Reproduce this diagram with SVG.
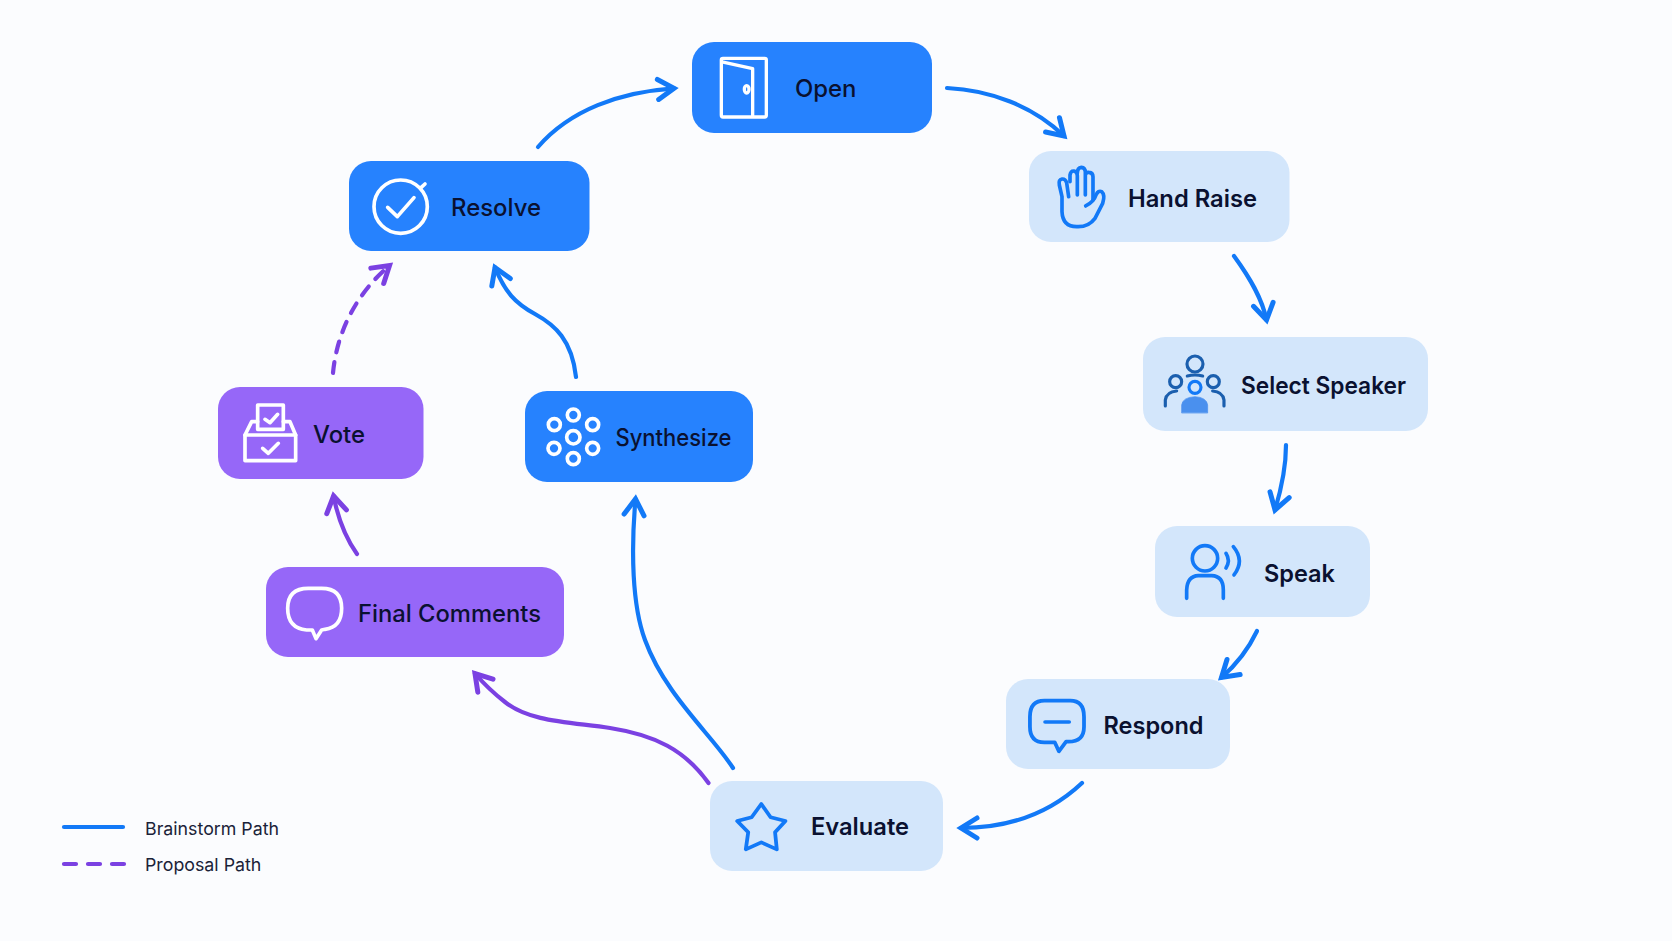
<svg xmlns="http://www.w3.org/2000/svg" width="1672" height="941" viewBox="0 0 1672 941">
<style>
.bg{fill:#fbfcfe}
.box{stroke:none}
.b{fill:#2682fe}
.l{fill:#d3e6fb}
.p{fill:#9667f8}
text{font-family:"Inter","Liberation Sans",sans-serif;font-size:24px;font-weight:500;fill:#0a1130}
text.lt{font-weight:600}
.lg{font-size:17.8px;font-weight:400;fill:#1a2238}
.ic{fill:none;stroke-linecap:round;stroke-linejoin:round;stroke-width:11}
.w{stroke:#fff}
.i{stroke:#1279f7}
.c{fill:none;stroke-width:4.2;stroke-linecap:round}
.cb{stroke:#1279f7;marker-end:url(#ab)}
.cp{stroke:#7b41e2;marker-end:url(#ap)}
</style>
<defs>
<marker id="ab" markerUnits="userSpaceOnUse" markerWidth="32" markerHeight="32" refX="24" refY="16" orient="auto" overflow="visible"><path d="M8 6 L24 16 L8 26" fill="none" stroke="#1279f7" stroke-width="5" stroke-linecap="round" stroke-linejoin="miter"/></marker>
<marker id="ap" markerUnits="userSpaceOnUse" markerWidth="32" markerHeight="32" refX="24" refY="16" orient="auto" overflow="visible"><path d="M8 6 L24 16 L8 26" fill="none" stroke="#7b41e2" stroke-width="5" stroke-linecap="round" stroke-linejoin="miter"/></marker>
</defs>
<rect class="bg" width="1672" height="941"/>
<g id="connectors">
<path class="c cb" d="M947 88 C990 90 1033 106 1064 136"/>
<path class="c cb" d="M1234 256 C1250 278 1262 298 1266.500 320"/>
<path class="c cb" d="M1286 445 C1286 470 1281 490 1275 510"/>
<path class="c cb" d="M1257 631 C1248 650 1237 664 1221.500 677.500"/>
<path class="c cb" d="M1082 783 C1048 815 1008 828 961 828"/>
<path class="c cb" d="M733 768 C712 735 665 695 645 640 C632 605 631 550 635.500 499"/>
<path class="c cp" d="M708.500 783 C685 750 655 735 610 728 C570 722 530 722 505 702 C492 692 484 684 475 673.500"/>
<path class="c cp" d="M357 554 C345 537 338 519 333.600 496"/>
<path class="c cp" stroke-dasharray="11 10" d="M333 373 C337 330 358 292 389.500 265.500"/>
<path class="c cb" d="M576 377 C572 340 555 325 535 314 C515 303 505 292 495 267.500"/>
<path class="c cb" d="M538 147 C570 110 620 92 674 88.400"/>
</g>
<g id="node-open"><rect class="box b" x="692" y="42" width="240" height="91" rx="22"/>
<g transform="translate(680 20) scale(.3333)" class="ic w" style="stroke-width:10"><rect x="124" y="115" width="135" height="176" rx="5"/><path d="M126 126 L218 146 L218 288"/><ellipse cx="200" cy="208" rx="7" ry="11"/></g>
<text x="795" y="97" textLength="61.500" lengthAdjust="spacingAndGlyphs">Open</text></g>
<g id="node-hand-raise"><rect class="box l" x="1029" y="151" width="260.500" height="91" rx="22"/>
<g transform="translate(1020 140) scale(.3333)" class="ic i"><path d="M146 170 L140 128 Q136 116 126 117 Q115 119 118 135 L126 170 L126 215 Q128 260 170 260 Q205 262 225 235 L248 190 Q256 165 245 155 Q235 150 228 165 Q222 185 197 198"/><path d="M150 125 L150 105 Q152 92 162 93 Q172 95 172 107 L172 165 M172 100 Q172 83 184 82 Q196 83 196 97 L196 165 M196 105 Q198 96 207 97 Q219 98 219 110 L219 180"/></g>
<text class="lt" x="1128" y="207" textLength="129" lengthAdjust="spacingAndGlyphs">Hand Raise</text></g>
<g id="node-select-speaker"><rect class="box l" x="1143" y="337" width="285" height="94" rx="22"/>
<g transform="translate(1020 140) scale(.3333)" class="ic" stroke="#1b5fae" style="stroke-width:9.500"><circle cx="525" cy="672" r="24"/><path d="M502 708 Q525 702 548 708"/><circle cx="467" cy="725" r="18"/><circle cx="580" cy="725" r="18"/><path d="M436 798 L436 780 Q440 755 470 753 M612 798 L612 780 Q608 755 578 753"/><circle cx="525" cy="742" r="18" stroke="#1279f7"/><path d="M485 818 L485 795 Q488 772 525 770 Q560 772 563 795 L563 818 Z" fill="#4a90ee" stroke="#4a90ee" stroke-width="2"/></g>
<text class="lt" x="1241" y="394" textLength="165" lengthAdjust="spacingAndGlyphs">Select Speaker</text></g>
<g id="node-speak"><rect class="box l" x="1155" y="526" width="215" height="91" rx="22"/>
<g transform="translate(1130 430) scale(.3333)" class="ic i"><circle cx="225" cy="385" r="38"/><path d="M170 505 L170 480 Q172 438 205 437 L245 437 Q280 438 280 480 L280 505"/><path d="M288 370 Q302 392 288 414 M310 350 Q345 392 312 435"/></g>
<text class="lt" x="1264" y="582" textLength="71" lengthAdjust="spacingAndGlyphs">Speak</text></g>
<g id="node-respond"><rect class="box l" x="1006" y="679" width="224" height="90" rx="22"/>
<g transform="translate(700 660) scale(.3444 .3333)" class="ic i"><path d="M1000 122 L1075 122 Q1115 122 1115 170 L1115 200 Q1115 245 1070 245 L1063 245 L1042 274 L1030 247 L1000 247 Q958 247 958 200 L958 170 Q958 122 1000 122 Z"/><path d="M1002 186 L1072 186"/></g>
<text class="lt" x="1103.500" y="734" textLength="100" lengthAdjust="spacingAndGlyphs">Respond</text></g>
<g id="node-evaluate"><rect class="box l" x="710" y="781" width="233" height="90" rx="22"/>
<g transform="translate(700 660) scale(.3444 .3333)" class="ic i"><path d="M178 432 L205 472 L248 483 L218 517 L223 568 L178 547 L133 568 L140 517 L108 483 L150 472 Z"/></g>
<text class="lt" x="811" y="835" textLength="98" lengthAdjust="spacingAndGlyphs">Evaluate</text></g>
<g id="node-synthesize"><rect class="box b" x="525" y="391" width="228" height="91" rx="22"/>
<g transform="translate(510 380) scale(.3333)" class="ic w"><circle cx="190" cy="172" r="20"/><circle cx="190" cy="105" r="18"/><circle cx="133" cy="134" r="18"/><circle cx="248" cy="134" r="18"/><circle cx="132" cy="205" r="18"/><circle cx="248" cy="205" r="18"/><circle cx="190" cy="236" r="18"/></g>
<text x="615.500" y="446" textLength="116" lengthAdjust="spacingAndGlyphs">Synthesize</text></g>
<g id="node-final-comments"><rect class="box p" x="266" y="567" width="298" height="90" rx="22"/>
<g transform="translate(250 550) scale(.3333)" class="ic w"><path d="M175 115 L215 115 Q275 115 275 175 Q275 232 225 238 L215 240 L198 266 L187 240 L170 240 Q113 235 113 175 Q113 115 175 115 Z"/></g>
<text x="358" y="622" textLength="183" lengthAdjust="spacingAndGlyphs">Final Comments</text></g>
<g id="node-vote"><rect class="box p" x="218" y="387" width="205.500" height="92" rx="22"/>
<g transform="translate(210 370) scale(.3333)" class="ic w"><rect x="143" y="105" width="77" height="73"/><path d="M165 148 L180 158 L203 133"/><path d="M105 195 L105 272 L257 272 L257 195 Z"/><path d="M105 195 L125 155 L143 155 M220 155 L240 155 L257 195"/><path d="M158 235 L175 250 L205 220"/></g>
<text x="313" y="443" textLength="52" lengthAdjust="spacingAndGlyphs">Vote</text></g>
<g id="node-resolve"><rect class="box b" x="349" y="161" width="240.500" height="90" rx="22"/>
<g transform="translate(340 150) scale(.3333)" class="ic w"><circle cx="182" cy="170" r="80"/><path d="M143 172 L172 200 L222 143"/><path d="M243 113 L255 102"/></g>
<text x="451" y="216" textLength="90" lengthAdjust="spacingAndGlyphs">Resolve</text></g>
<g id="legend">
<path d="M64 827 L123 827" class="c" stroke="#1279f7" stroke-width="4.5"/>
<path d="M64 864 L124 864" class="c" stroke="#7b41e2" stroke-width="4.5" stroke-dasharray="12 12"/>
<text class="lg" x="145" y="835">Brainstorm Path</text>
<text class="lg" x="145" y="871">Proposal Path</text>
</g>
</svg>
